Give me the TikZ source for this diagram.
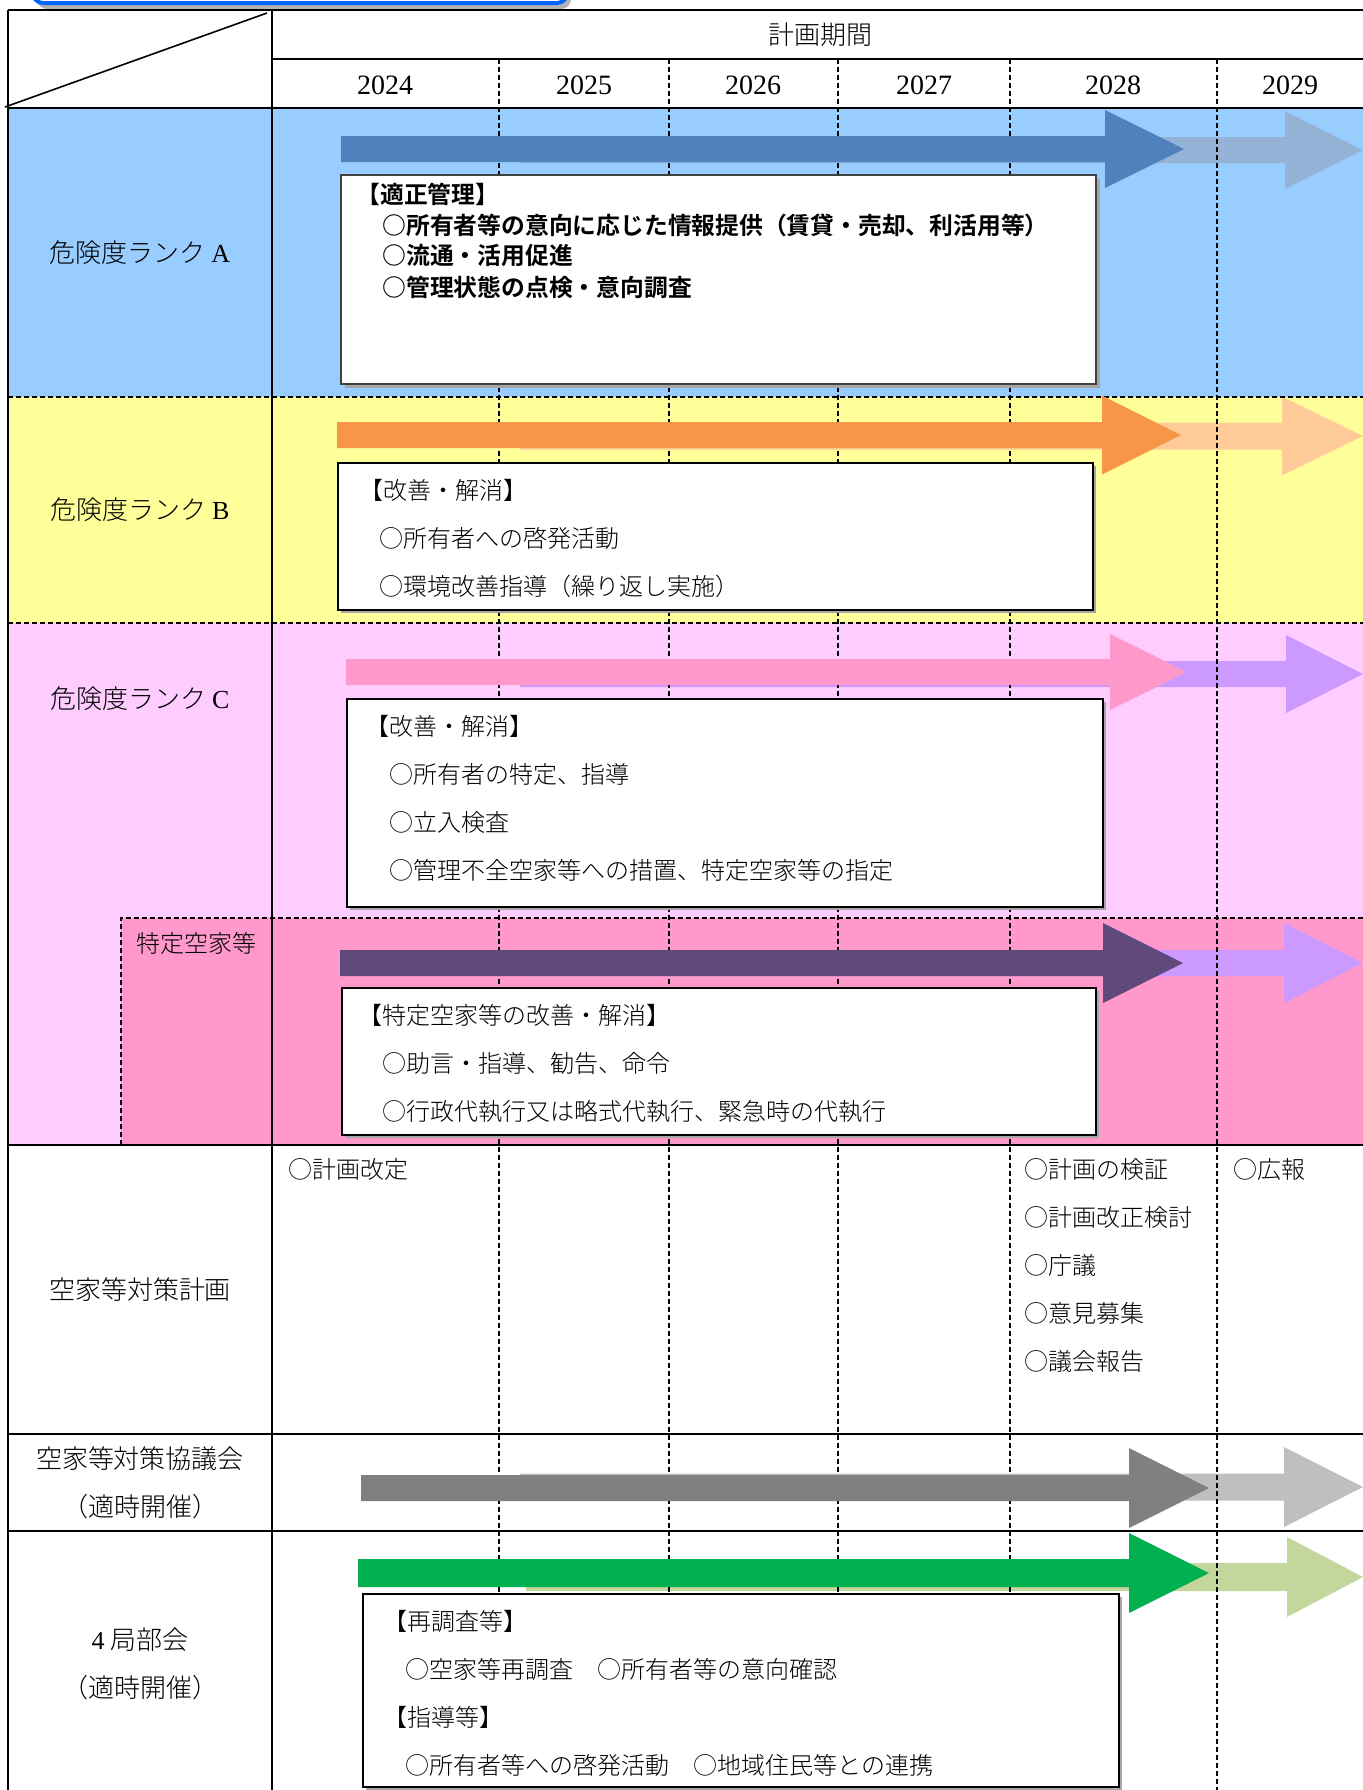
\documentclass[tikz,border=0pt]{standalone}
\usepackage{fontspec}
\setmainfont{Liberation Serif}
\newfontfamily\jp{Noto Sans CJK JP}[UprightFont=* Light, BoldFont=* Bold]
\definecolor{rowA}{HTML}{99CCFF}
\definecolor{rowB}{HTML}{FFFF99}
\definecolor{rowC}{HTML}{FFCCFF}
\definecolor{rowT}{HTML}{FF99CC}
\definecolor{arA}{HTML}{4F81BD}
\definecolor{arAl}{HTML}{95B3D7}
\definecolor{arB}{HTML}{F79646}
\definecolor{arBl}{HTML}{FFCC99}
\definecolor{arC}{HTML}{FF99CC}
\definecolor{arCl}{HTML}{CC99FF}
\definecolor{arT}{HTML}{604A7B}
\definecolor{arG}{HTML}{808080}
\definecolor{arGl}{HTML}{BFBFBF}
\definecolor{arN}{HTML}{00B050}
\definecolor{arNl}{HTML}{C3D69B}
\definecolor{tabblue}{HTML}{0066FF}
% color, x0, xbase, xtip, ycenter, shaft half height, head half height
\newcommand{\fatarrow}[7]{\fill[#1] ({#2},{#5-#6}) -- ({#3},{#5-#6}) -- ({#3},{#5-#7}) -- ({#4},{#5}) -- ({#3},{#5+#7}) -- ({#3},{#5+#6}) -- ({#2},{#5+#6}) -- cycle;}
\begin{document}
\begin{tikzpicture}[x=0.5pt,y=-0.5pt,
  lab/.style={font=\jp\fontsize{13}{16}\selectfont, inner sep=0},
  yr/.style={font=\fontsize{14}{16}\selectfont, inner sep=0},
  bt/.style={font=\jp\fontsize{12}{14}\selectfont, inner sep=0, anchor=west},
  bta/.style={font=\jp\bfseries\fontsize{11.9}{14}\selectfont, inner sep=0, anchor=west},
  solidline/.style={line width=1pt},
  dashline/.style={line width=0.8pt, dash pattern=on 2.5pt off 1.5pt},
  tbox/.style={draw=black, line width=1pt, fill=white},
  tshadow/.style={fill=black!35},
]
\useasboundingbox (0,0) rectangle (1363,1790);
\clip (0,0) rectangle (1363,1790);
% tab at top (cut off)
\fill[black!30, rounded corners=5pt] (37,-40) rectangle (571,9);
\draw[tabblue, line width=2pt, fill=white, rounded corners=5pt] (33,-40) rectangle (567,3);
% row fills
\fill[rowA] (8,108) rectangle (1363,397);
\fill[rowB] (8,397) rectangle (1363,623);
\fill[rowC] (8,623) rectangle (1363,1145);
\fill[rowT] (121,918) rectangle (1363,1145);
% light arrows
\fatarrow{arAl}{520}{1285}{1363}{150}{13}{39}
\fatarrow{arBl}{520}{1282}{1363}{436}{13.5}{39.5}
\fatarrow{arCl}{520}{1286}{1363}{674}{13}{39}
\fatarrow{arCl}{520}{1284}{1363}{963}{13}{40}
\fatarrow{arGl}{520}{1284}{1363}{1487}{13.5}{40}
\fatarrow{arNl}{526}{1287}{1363}{1577}{14}{40}
% year dividers
\foreach \x in {499,669,838,1010,1217} \draw[dashline] (\x,59) -- (\x,1790);
% grid
\draw[dashline] (8,397) -- (1363,397);
\draw[dashline] (8,623) -- (1363,623);
\draw[dashline] (121,1145) -- (121,918) -- (1363,918);
\draw[solidline] (8,10) -- (1363,10);
\draw[solidline] (272,59) -- (1363,59);
\draw[solidline] (8,108) -- (1363,108);
\draw[solidline] (8,1145) -- (1363,1145);
\draw[solidline] (8,1434) -- (1363,1434);
\draw[solidline] (8,1531) -- (1363,1531);
\draw[solidline] (8,10) -- (8,1790);
\draw[solidline] (272,10) -- (272,1790);
\draw[line width=0.8pt] (5,107) -- (267,13);
% dark arrows
\fatarrow{arA}{341}{1105}{1184}{149}{13}{39}
\fatarrow{arB}{337}{1102}{1181}{435}{13}{39.5}
\fatarrow{arC}{346}{1110}{1187}{672}{13}{38}
\fatarrow{arT}{340}{1103}{1183}{963}{13}{40}
\fatarrow{arG}{361}{1129}{1209}{1488}{13}{40}
\fatarrow{arN}{358}{1129}{1209}{1573}{14}{40}
% header
\node[lab] (hdr) at (820,35) {計画期間};
\node[yr] (y24) at (385,85) {2024};
\node[yr] (y25) at (584,85) {2025};
\node[yr] (y26) at (753,85) {2026};
\node[yr] (y27) at (924,85) {2027};
\node[yr] (y28) at (1113,85) {2028};
\node[yr] (y29) at (1290,85) {2029};
% row labels
\node[lab] (lA) at (140,253) {危険度ランク {\rmfamily A}};
\node[lab] (lB) at (140,510) {危険度ランク {\rmfamily B}};
\node[lab] (lC) at (140,699) {危険度ランク {\rmfamily C}};
\node[lab, font=\jp\fontsize{12}{14}\selectfont] (lT) at (196,943) {特定空家等};
\node[lab] (lP) at (140,1290) {空家等対策計画};
\node[lab] (lK1) at (140,1459) {空家等対策協議会};
\node[lab] (lK2) at (140,1507) {（適時開催）};
\node[lab] (lN1) at (140,1640) {{\rmfamily 4} 局部会};
\node[lab] (lN2) at (140,1688) {（適時開催）};
% box A
\fill[tshadow] (345,179) rectangle (1100,388);
\draw[draw=black!75, line width=1pt, fill=white] (341,175) rectangle (1096,384);
\node[bta] (a0) at (356,194) {【適正管理】};
\node[bta] (a1) at (382,225) {○所有者等の意向に応じた情報提供（賃貸・売却、利活用等）};
\node[bta] (a2) at (382,256) {○流通・活用促進};
\node[bta] (a3) at (382,287) {○管理状態の点検・意向調査};
% box B
\fill[tshadow] (341,466) rectangle (1096,613);
\draw[tbox] (338,463) rectangle (1093,610);
\node[bt] (b0) at (359,490) {【改善・解消】};
\node[bt] (b1) at (379,538) {○所有者への啓発活動};
\node[bt] (b2) at (379,586) {○環境改善指導（繰り返し実施）};
% box C
\fill[tshadow] (350,702) rectangle (1106,910);
\draw[tbox] (347,699) rectangle (1103,907);
\node[bt] (c0) at (365,726) {【改善・解消】};
\node[bt] (c1) at (389,774) {○所有者の特定、指導};
\node[bt] (c2) at (389,822) {○立入検査};
\node[bt] (c3) at (389,870) {○管理不全空家等への措置、特定空家等の指定};
% box T
\fill[tshadow] (345,991) rectangle (1099,1138);
\draw[tbox] (342,988) rectangle (1096,1135);
\node[bt] (t0) at (358,1015) {【特定空家等の改善・解消】};
\node[bt] (t1) at (382,1063) {○助言・指導、勧告、命令};
\node[bt] (t2) at (382,1111) {○行政代執行又は略式代執行、緊急時の代執行};
% plan row
\node[bt] (p0) at (288,1169) {○計画改定};
\node[bt] (p1) at (1024,1169) {○計画の検証};
\node[bt] (p2) at (1024,1217) {○計画改正検討};
\node[bt] (p3) at (1024,1265) {○庁議};
\node[bt] (p4) at (1024,1313) {○意見募集};
\node[bt] (p5) at (1024,1361) {○議会報告};
\node[bt] (p6) at (1233,1169) {○広報};
% box N
\fill[tshadow] (366,1597) rectangle (1122,1790);
\draw[tbox] (363,1594) rectangle (1119,1787);
\node[bt] (n0) at (383,1621) {【再調査等】};
\node[bt] (n1) at (405,1669) {○空家等再調査　○所有者等の意向確認};
\node[bt] (n2) at (383,1717) {【指導等】};
\node[bt] (n3) at (405,1765) {○所有者等への啓発活動　○地域住民等との連携};
\end{tikzpicture}
\end{document}
